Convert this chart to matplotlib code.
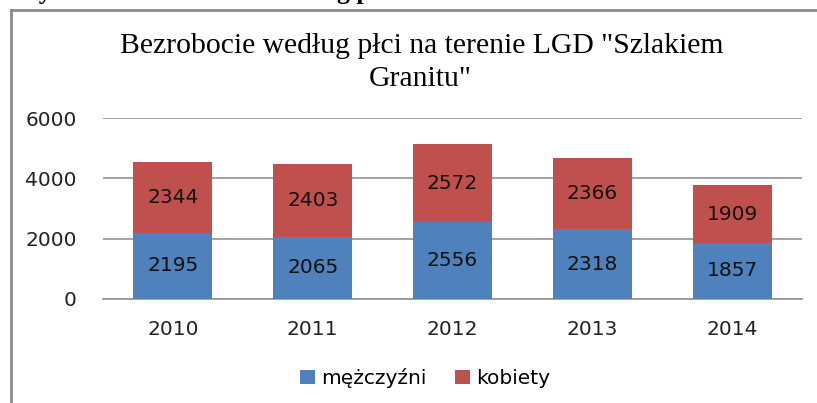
import matplotlib
matplotlib.use("Agg")
import matplotlib.pyplot as plt
from matplotlib.lines import Line2D
from matplotlib.patches import Patch

years = ["2010", "2011", "2012", "2013", "2014"]
men = [2195, 2065, 2556, 2318, 1857]
women = [2344, 2403, 2572, 2366, 1909]
yticks = [0, 2000, 4000, 6000]
title_lines = ['Bezrobocie według płci na terenie LGD "Szlakiem', 'Granitu"']
series_names = ["mężczyźni", "kobiety"]
caption = "Wykres 12. Bezrobocie według płci"

blue = "#4F81BD"
red = "#C0504D"
sans = ["DejaVu Sans"]
fs = 14.5

fig = plt.figure(figsize=(8.17, 4.03), dpi=100)
ax = fig.add_axes([103/817, 1-299/403, 699/817, 181/403])

x = list(range(len(years)))
w = 0.565
b1 = ax.bar(x, men, width=w, color=blue, zorder=3)
b2 = ax.bar(x, women, width=w, bottom=men, color=red, zorder=3)
for bars, vals in ((b1, men), (b2, women)):
    for rect, v in zip(bars, vals):
        ax.text(rect.get_x()+rect.get_width()/2, rect.get_y()+rect.get_height()/2, str(v),
                ha="center", va="center", fontsize=fs, color="#111111", family=sans, zorder=4)

ax.set_xlim(-0.5, len(years)-0.5)
ax.set_ylim(0, 6000)
ax.set_yticks(yticks)
ax.set_yticklabels([str(t) for t in yticks], family=sans, fontsize=fs, color="#222222")
ax.set_xticks(x)
ax.set_xticklabels(years, family=sans, fontsize=fs, color="#222222")
ax.tick_params(axis="both", length=0)
ax.tick_params(axis="y", pad=19)
ax.tick_params(axis="x", pad=15)
ax.grid(axis="y", color="#939393", linewidth=1.2, zorder=0)
for s in ["top", "right", "left"]:
    ax.spines[s].set_visible(False)
ax.spines["bottom"].set_color("#939393")
ax.spines["bottom"].set_linewidth(1.2)

fig.text(422/817, 1-53/403, title_lines[0], ha="center", va="baseline", fontsize=21.3,
         family="Liberation Serif")
fig.text(420/817, 1-86/403, title_lines[1], ha="center", va="baseline", fontsize=21.3,
         family="Liberation Serif")

handles = [Patch(facecolor=blue), Patch(facecolor=red)]
fig.legend(handles, series_names, loc="center", bbox_to_anchor=(425/817, 1-378/403),
           ncol=2, frameon=False, prop={"family": sans, "size": fs},
           handlelength=0.75, handleheight=0.75, handletextpad=0.3, columnspacing=1.4)

# surrounding frame of the chart object
fig.add_artist(Line2D([11/817, 1.0], [1-10/403, 1-10/403], color="#8a8a8a", linewidth=2,
                      transform=fig.transFigure))
fig.add_artist(Line2D([11/817, 11/817], [1-10/403, 0], color="#8a8a8a", linewidth=2,
                      transform=fig.transFigure))

# cropped caption from the document above the chart (only descenders visible)
fig.text(14/817, 1+1.5/403, caption, ha="left", va="baseline",
         fontsize=18.5, fontweight="bold", family="Liberation Serif")

fig.savefig("out.png", dpi=100)
